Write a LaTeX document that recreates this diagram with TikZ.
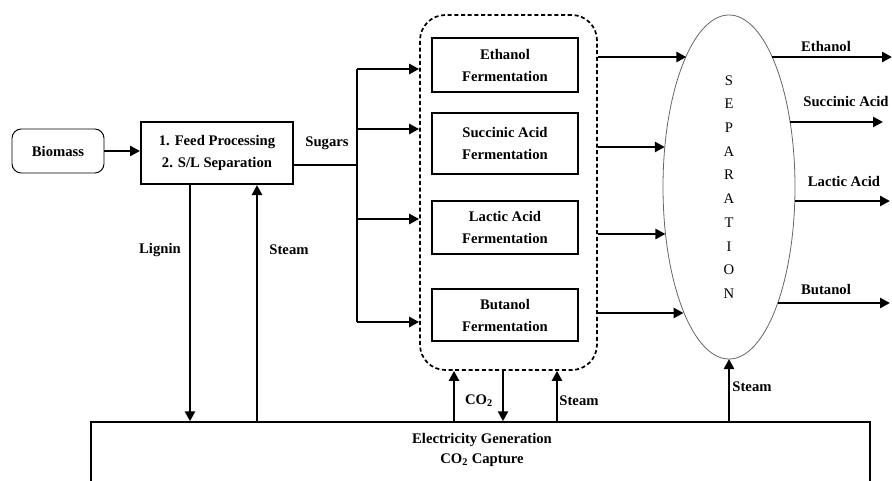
\documentclass[tikz,border=0pt]{standalone}
\usepackage{fontspec}
\setmainfont{Liberation Serif}
\usetikzlibrary{arrows,arrows.meta,shapes.geometric}

\tikzset{
  flow/.style={line width=2.1pt,-{Triangle[length=7.5pt,width=7.5pt]}},
  procbox/.style={draw,line width=1.1pt,align=center,font=\bfseries\fontsize{11}{16.5}\selectfont},
  lbl/.style={inner sep=0.75pt,font=\bfseries\fontsize{11}{13}\selectfont}
}

\begin{document}
\begin{tikzpicture}[x=0.75pt,y=0.75pt,yscale=-1,xscale=1]
\useasboundingbox (0,0) rectangle (892,481);

%Shape: Rounded Rectangle
\node[draw,rounded corners=7pt,line width=0.7pt,minimum width=69pt,minimum height=33pt,lbl] (bio) at (58,151) {Biomass};
%Shape: Rectangle
\node[procbox,line width=1.5pt,minimum width=114pt,minimum height=46.5pt] (feed) at (217,153) {1. Feed Processing\\2. S/L Separation};

%Shape: Dashed Rounded Rectangle
\node[draw,dashed,dash pattern=on 3pt off 2pt,line width=1.3pt,rounded corners=19pt,minimum width=132.75pt,minimum height=266.25pt] (ferm) at (508.5,192.5) {};
%Shape: Rectangle
\node[procbox,minimum width=109.5pt,minimum height=40.5pt] (eth) at (505,65) {Ethanol\\Fermentation};
\node[procbox,minimum width=109.5pt,minimum height=45.75pt] (suc) at (505,143.5) {Succinic Acid\\Fermentation};
\node[procbox,minimum width=109.5pt,minimum height=39.75pt] (lac) at (505,227.5) {Lactic Acid\\Fermentation};
\node[procbox,minimum width=109.5pt,minimum height=39pt] (but) at (505,315) {Butanol\\Fermentation};

%Shape: Ellipse
\node[ellipse,draw=black!60,line width=0.6pt,outer sep=0pt,minimum width=99pt,minimum height=258pt,align=center,font=\fontsize{11}{17.8}\selectfont] (sep) at (729,187) {S\\E\\P\\A\\R\\A\\T\\I\\O\\N};

%Shape: Rectangle (bottom, cut off)
\node[draw,line width=1.1pt,minimum width=584.25pt,minimum height=72pt] (elec) at (480.5,470) {};
\node[lbl,align=center,font=\bfseries\fontsize{11}{14.5}\selectfont] (elecl) at (482,450) {Electricity Generation\\CO$_\mathbf{2}$ Capture};

%Straight Lines
\draw[flow] (bio.east) -- (feed.west |- bio.east);
\coordinate (bus) at (357,165);
\coordinate (b1) at (357,69);
\coordinate (b2) at (357,129);
\coordinate (b3) at (357,219);
\coordinate (b4) at (357,322);
\draw[line width=0.8pt] (feed.east |- bus) -- (bus);
\draw[line width=0.8pt] (b1) -- (b4);
\foreach \b in {b1,b2,b3,b4}
  \draw[flow] (\b) -- (ferm.west |- \b);

%Straight Lines
\foreach \y/\a in {57/108,147/148,234/216,313/250}
  \draw[flow] (ferm.east |- 0,\y) -- (sep.\a |- 0,\y);

%Straight Lines
\coordinate (outEth) at (892,57);
\coordinate (outSuc) at (883,122);
\coordinate (outLac) at (890,201);
\coordinate (outBut) at (890,303);
\draw[flow] (sep.72 |- outEth) -- (outEth);
\draw[flow] (sep.47 |- outSuc) -- (outSuc);
\draw[flow] (sep.348 |- outLac) -- (outLac);
\draw[flow] (sep.293 |- outBut) -- (outBut);

%Straight Lines
\draw[flow] (feed.south -| 190,0) -- (elec.north -| 190,0);
\draw[flow] (elec.north -| 257,0) -- (feed.south -| 257,0);
\draw[flow] (elec.north -| 454,0) -- (ferm.south -| 454,0);
\draw[flow] (ferm.south -| 503,0) -- (elec.north -| 503,0);
\draw[flow] (elec.north -| 557,0) -- (ferm.south -| 557,0);
\draw[flow] (elec.north -| sep.south) -- (sep.south);

% Text Node
\node[lbl] (sugars) at (327,143) {Sugars};
\node[lbl] (lignin) at (160,250) {Lignin};
\node[lbl] (steamA) at (289,250) {Steam};
\node[lbl] (co2) at (479,401) {CO$_\mathbf{2}$};
\node[lbl] (steamB) at (579,401) {Steam};
\node[lbl] (steamC) at (752,387) {Steam};
\node[lbl] (lEth) at (826,46) {Ethanol};
\node[lbl] (lSuc) at (846,102) {Succinic Acid};
\node[lbl] (lLac) at (844,181) {Lactic Acid};
\node[lbl] (lBut) at (826,290) {Butanol};

\end{tikzpicture}
\end{document}
